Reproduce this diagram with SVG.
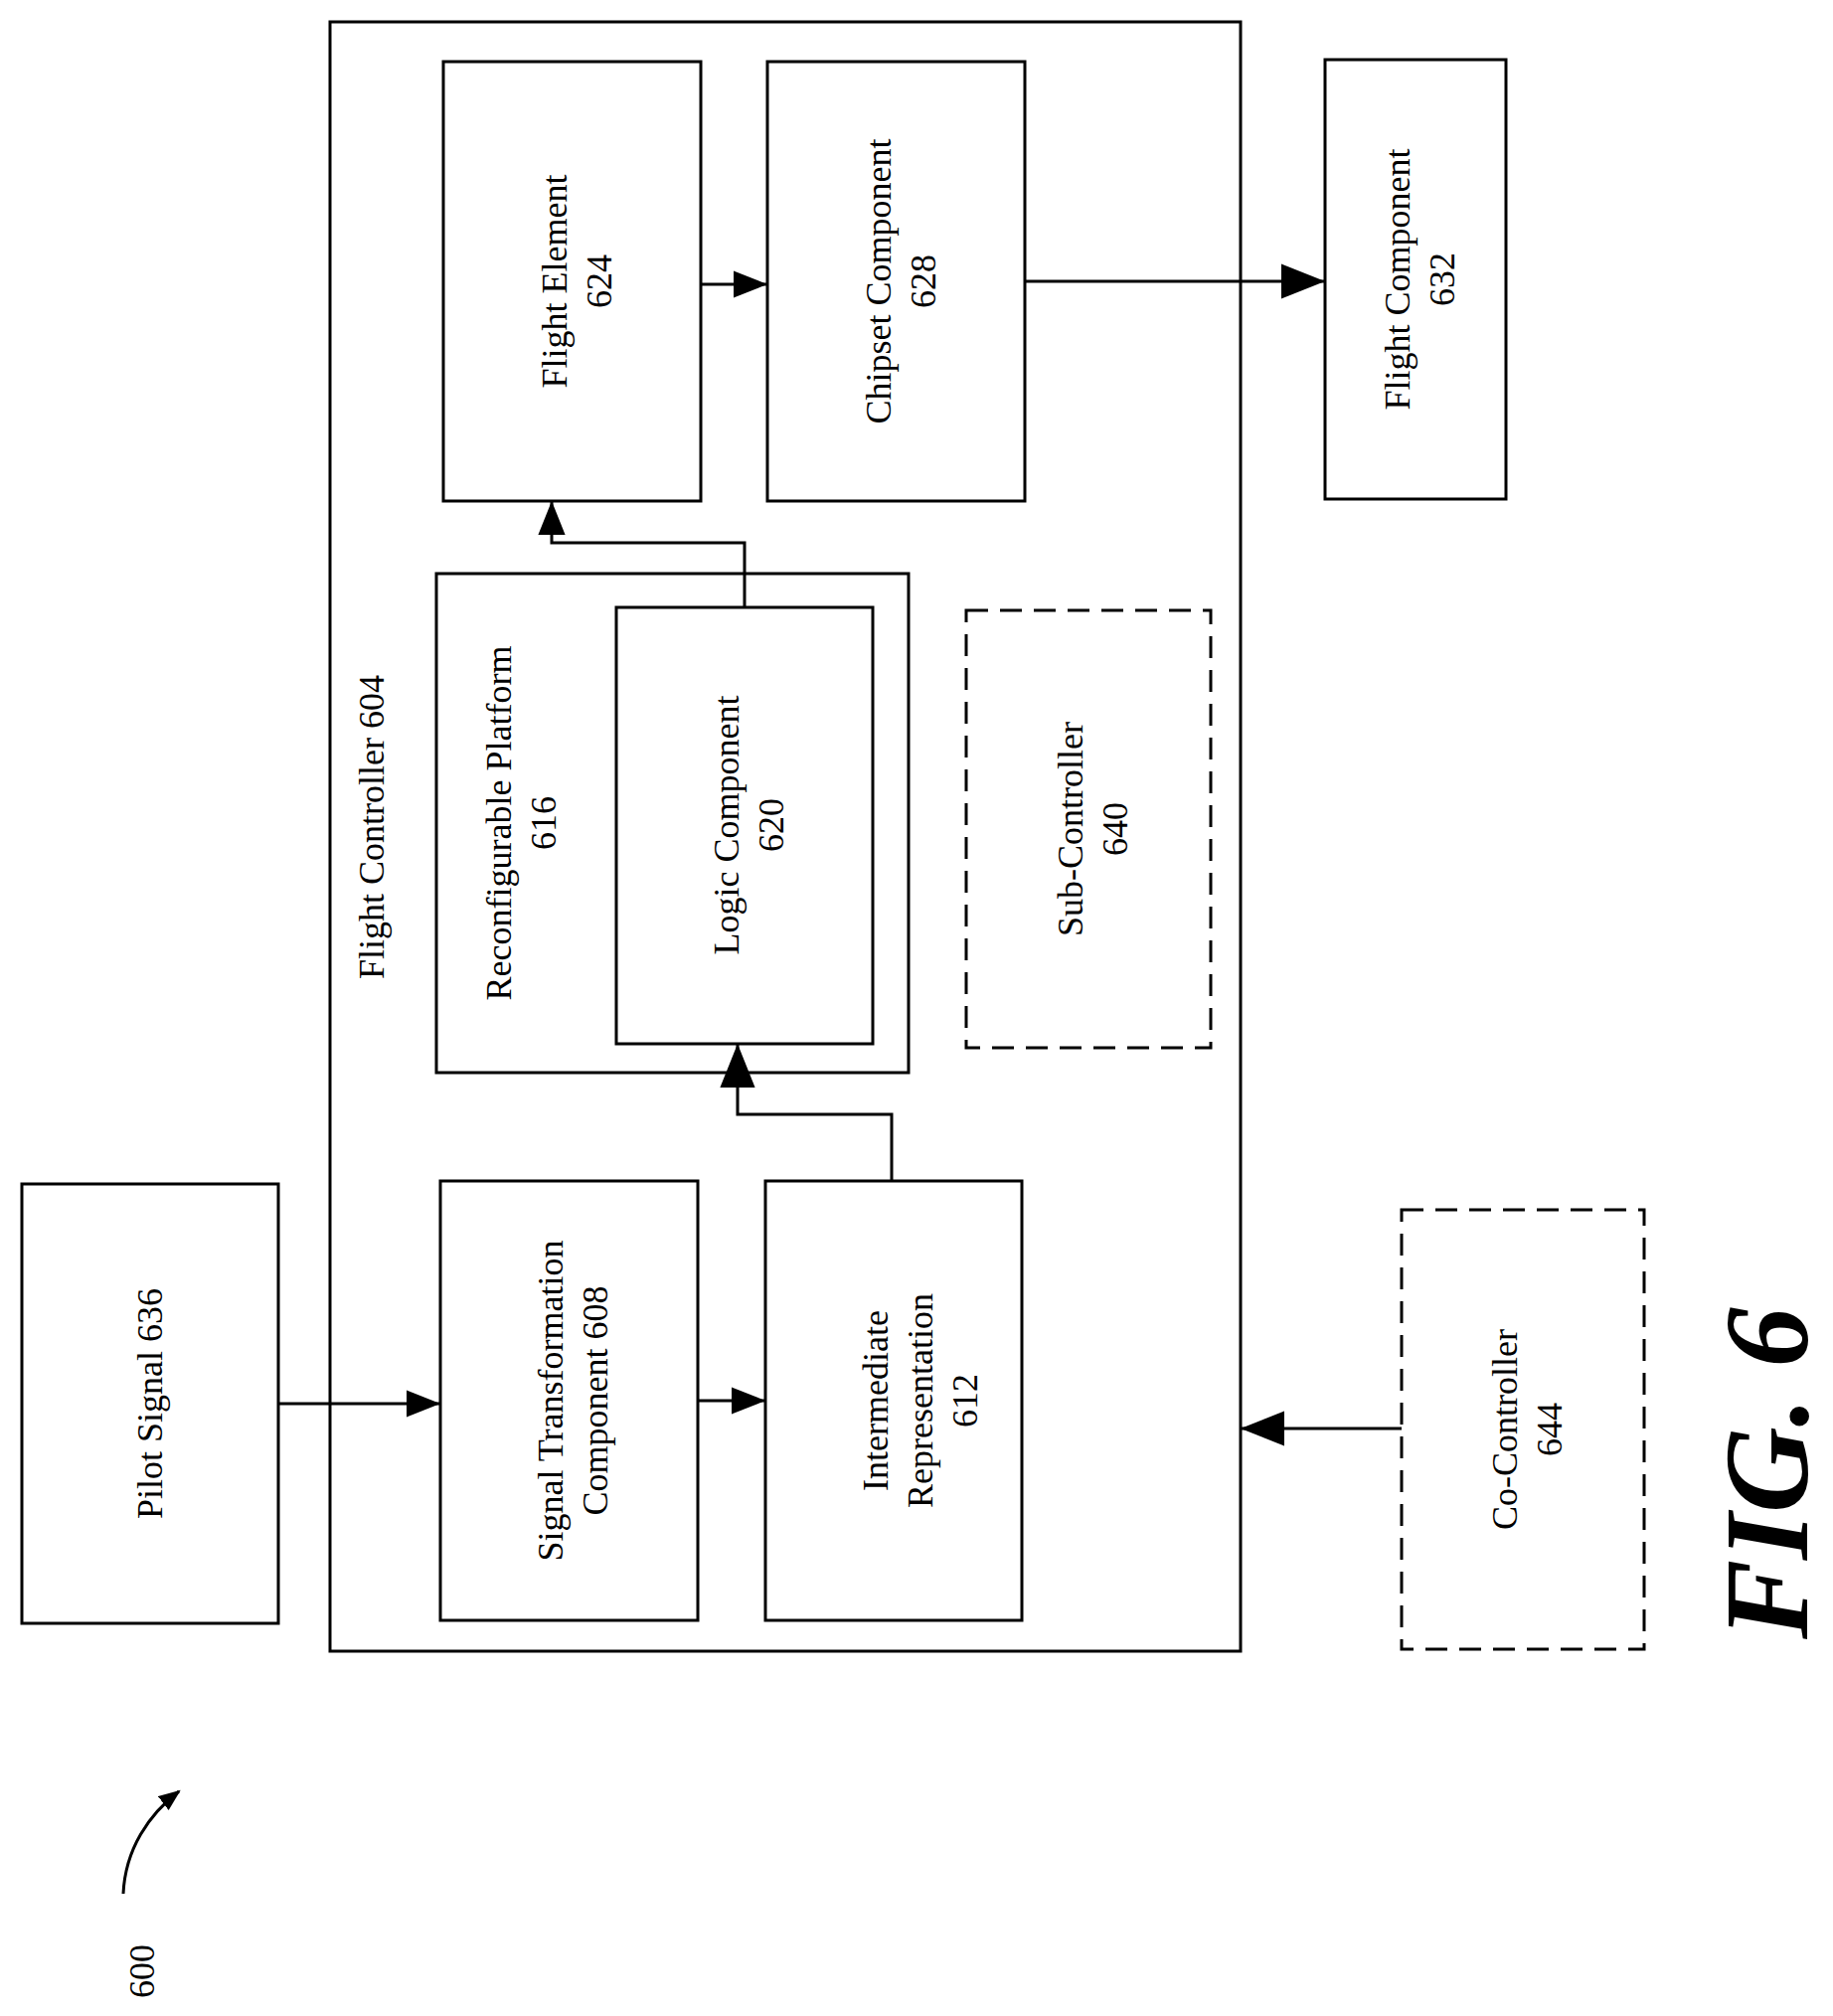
<svg xmlns="http://www.w3.org/2000/svg" width="1844" height="2028" viewBox="0 0 1844 2028">
<style>
.b{fill:#fff;stroke:#000;stroke-width:3}
.d{fill:#fff;stroke:#000;stroke-width:3;stroke-dasharray:22 12}
.l{fill:none;stroke:#000;stroke-width:3}
text{font-family:"Liberation Serif",serif;font-size:36px;text-anchor:middle}
</style>
<defs>
<marker id="a" viewBox="0 0 10 8" refX="9" refY="4" markerWidth="22" markerHeight="18" orient="auto" markerUnits="userSpaceOnUse"><path d="M0,0L10,4L0,8z"/></marker>
<marker id="ah" viewBox="0 0 10 8" refX="10" refY="4" markerWidth="34" markerHeight="28" orient="auto" markerUnits="userSpaceOnUse"><path d="M0,0L10,4L0,8z"/></marker>
<marker id="am" viewBox="0 0 10 8" refX="10" refY="4" markerWidth="44" markerHeight="40" orient="auto" markerUnits="userSpaceOnUse"><path d="M0,0L10,4L0,8z"/></marker>
</defs>
<g id="fc604"><rect class="b" x="332" y="22" width="916" height="1639"/>
<text transform="translate(374,832) rotate(-90)" dy="12">Flight Controller 604</text></g>
<g id="n624"><rect class="b" x="446" y="62" width="259" height="442"/>
<text transform="translate(576,283) rotate(-90)"><tspan x="0" dy="-6">Flight Element</tspan><tspan x="0" dy="45">624</tspan></text></g>
<g id="n628"><rect class="b" x="772" y="62" width="259" height="442"/>
<text transform="translate(902,283) rotate(-90)"><tspan x="0" dy="-6">Chipset Component</tspan><tspan x="0" dy="45">628</tspan></text></g>
<g id="n632"><rect class="b" x="1333" y="60" width="182" height="442"/>
<text transform="translate(1424,281) rotate(-90)"><tspan x="0" dy="-6">Flight Component</tspan><tspan x="0" dy="45">632</tspan></text></g>
<g id="n616"><rect class="b" x="439" y="577" width="475" height="502"/>
<text transform="translate(520,828) rotate(-90)"><tspan x="0" dy="-6">Reconfigurable Platform</tspan><tspan x="0" dy="45">616</tspan></text></g>
<g id="n620"><rect class="b" x="620" y="611" width="258" height="439"/>
<text transform="translate(749,830) rotate(-90)"><tspan x="0" dy="-6">Logic Component</tspan><tspan x="0" dy="45">620</tspan></text></g>
<g id="n640"><rect class="d" x="972" y="614" width="246" height="440"/>
<text transform="translate(1095,834) rotate(-90)"><tspan x="0" dy="-6">Sub-Controller</tspan><tspan x="0" dy="45">640</tspan></text></g>
<g id="n636"><rect class="b" x="22" y="1191" width="258" height="442"/>
<text transform="translate(151,1412) rotate(-90)" dy="12">Pilot Signal 636</text></g>
<g id="n608"><rect class="b" x="443" y="1188" width="259" height="442"/>
<text transform="translate(572,1409) rotate(-90)"><tspan x="0" dy="-6">Signal Transformation</tspan><tspan x="0" dy="45">Component 608</tspan></text></g>
<g id="n612"><rect class="b" x="770" y="1188" width="258" height="442"/>
<text transform="translate(899,1409) rotate(-90)"><tspan x="0" dy="-6">Intermediate</tspan><tspan x="0" dy="45">Representation</tspan><tspan x="0" dy="45">612</tspan></text></g>
<g id="n644"><rect class="d" x="1410" y="1217" width="244" height="442"/>
<text transform="translate(1532,1438) rotate(-90)"><tspan x="0" dy="-6">Co-Controller</tspan><tspan x="0" dy="45">644</tspan></text></g>
<g id="connectors">
<line class="l" x1="280" y1="1412" x2="443" y2="1412" marker-end="url(#ah)"/>
<line class="l" x1="702" y1="1409" x2="770" y2="1409" marker-end="url(#ah)"/>
<polyline class="l" points="897,1188 897,1121 742,1121 742,1050" marker-end="url(#am)"/>
<polyline class="l" points="749,611 749,546 555,546 555,504" marker-end="url(#ah)"/>
<line class="l" x1="705" y1="286" x2="772" y2="286" marker-end="url(#ah)"/>
<line class="l" x1="1031" y1="283" x2="1333" y2="283" marker-end="url(#am)"/>
<line class="l" x1="1410" y1="1437" x2="1248" y2="1437" marker-end="url(#am)"/>
<path class="l" d="M124,1905 C126,1860 150,1825 180,1802" marker-end="url(#a)"/>
</g>
<text transform="translate(143,1983) rotate(-90)" dy="12">600</text>
<text transform="translate(1788,1482) rotate(-90)" dy="30" style="font-size:120px;font-weight:bold;font-style:italic">FIG. 6</text>
</svg>
